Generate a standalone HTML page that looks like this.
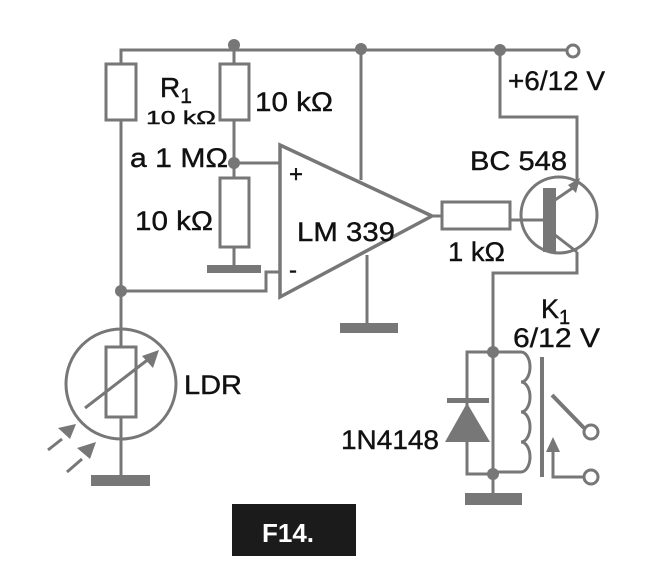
<!DOCTYPE html>
<html><head><meta charset="utf-8"><style>
html,body{margin:0;padding:0;background:#fff;width:657px;height:583px;overflow:hidden}
svg{display:block}
text{font-family:"Liberation Sans",Arial,sans-serif;fill:#111;stroke:#111;stroke-width:0.4}
</style></head><body>
<svg width="657" height="583" viewBox="0 0 657 583" xmlns="http://www.w3.org/2000/svg">
<g stroke="#777" stroke-width="3" fill="none">
<polyline points="121,120 121,50 567,50"/>
<circle cx="573" cy="51" r="6" fill="#fff"/>
<rect x="106" y="64" width="30" height="56" fill="#fff"/>
<line x1="121" y1="120" x2="121" y2="291"/>
<line x1="234" y1="50" x2="234" y2="64"/>
<rect x="220" y="64" width="29" height="56" fill="#fff"/>
<line x1="234" y1="120" x2="234" y2="178"/>
<rect x="220" y="178" width="29" height="69" fill="#fff"/>
<line x1="234" y1="247" x2="234" y2="266"/>
<line x1="234" y1="163" x2="280" y2="163"/>
<polyline points="121,291 266,291 266,272 280,272"/>
<polygon points="280,145 280,297 432,216" stroke-width="3.5" fill="#fff"/>
<line x1="361" y1="50" x2="361" y2="180"/>
<line x1="367" y1="255" x2="367" y2="324"/>
<line x1="432" y1="216" x2="442" y2="216"/>
<rect x="442" y="202" width="68" height="27" fill="#fff"/>
<line x1="510" y1="220" x2="545" y2="220"/>
<circle cx="559" cy="215" r="38"/>
<line x1="555" y1="200" x2="577" y2="185"/>
<line x1="555" y1="235" x2="577" y2="252"/>
<polyline points="577,185 577,117 500,117 500,50"/>
<polyline points="577,252 577,273 493,273 493,474"/>
<polyline points="493,352 467,352 467,474 493,474"/>
<path d="M493,352 H521 a9,15 0 0 1 0,30 a9,15 0 0 1 0,30 a9,15 0 0 1 0,30 a9,15 0 0 1 0,30 H493"/>
<line x1="493" y1="474" x2="493" y2="495"/>
<line x1="542" y1="357" x2="542" y2="477" stroke-width="4"/>
<line x1="552" y1="395" x2="584" y2="428" stroke-width="4"/>
<circle cx="591" cy="432" r="7" fill="#fff"/>
<polyline points="553,452 553,477 584,477"/>
<circle cx="591" cy="477" r="7" fill="#fff"/>
<line x1="121" y1="291" x2="121" y2="347"/>
<circle cx="121" cy="384" r="55"/>
<rect x="106" y="347" width="30" height="70" fill="#fff"/>
<line x1="121" y1="417" x2="121" y2="476"/>
<line x1="85" y1="408" x2="150" y2="358"/>
<line x1="48" y1="450" x2="62" y2="439"/>
<line x1="67" y1="472" x2="82" y2="459"/>
</g>
<g fill="#777">
<circle cx="234" cy="45" r="6"/><circle cx="361" cy="49" r="6"/><circle cx="500" cy="50" r="6"/>
<circle cx="234" cy="163" r="6"/><circle cx="121" cy="291" r="6"/>
<circle cx="493" cy="352" r="6"/><circle cx="493" cy="474" r="6"/>
<rect x="207" y="265" width="54" height="8"/>
<rect x="340" y="323" width="58" height="10"/>
<rect x="91" y="475" width="59" height="11"/>
<rect x="465" y="493" width="57" height="12"/>
<rect x="543" y="188" width="13" height="64"/>
<polygon points="568,185 580,178 576,193" />
<polygon points="159,350 142,356 153,368"/>
<polygon points="58,428 76,424 70,439"/>
<polygon points="77,448 96,442 90,459"/>
<rect x="447" y="398" width="42" height="5"/>
<polygon points="467,403 445,442 490,442"/>
<polygon points="553,437 546,452 560,452"/>
</g>
<rect x="232" y="504" width="124" height="52" fill="#1b1b1b"/>
<text x="262" y="542" font-size="26" font-weight="bold" style="fill:#fff;stroke:none">F14.</text>
<g font-size="27">
<text x="160" y="97" font-size="28">R<tspan font-size="21" dy="6">1</tspan></text>
<text x="146" y="124" font-size="18" textLength="70" lengthAdjust="spacingAndGlyphs">10 kΩ</text>
<text x="130" y="167" textLength="98" lengthAdjust="spacingAndGlyphs">a 1 MΩ</text>
<text x="255" y="111" textLength="78" lengthAdjust="spacingAndGlyphs">10 kΩ</text>
<text x="135" y="230" textLength="78" lengthAdjust="spacingAndGlyphs">10 kΩ</text>
<text x="289" y="182" font-size="24">+</text>
<text x="289" y="278" font-size="24">-</text>
<text x="297" y="241" textLength="98" lengthAdjust="spacingAndGlyphs">LM 339</text>
<text x="508" y="90" textLength="97" lengthAdjust="spacingAndGlyphs">+6/12 V</text>
<text x="470" y="170" textLength="97" lengthAdjust="spacingAndGlyphs">BC 548</text>
<text x="448" y="261" textLength="57" lengthAdjust="spacingAndGlyphs">1 kΩ</text>
<text x="541" y="318" font-size="27">K<tspan font-size="20" dy="6">1</tspan></text>
<text x="513" y="347" textLength="87" lengthAdjust="spacingAndGlyphs">6/12 V</text>
<text x="341" y="449" textLength="98" lengthAdjust="spacingAndGlyphs">1N4148</text>
<text x="184" y="394" textLength="58" lengthAdjust="spacingAndGlyphs">LDR</text>
</g>
</svg>
</body></html>
